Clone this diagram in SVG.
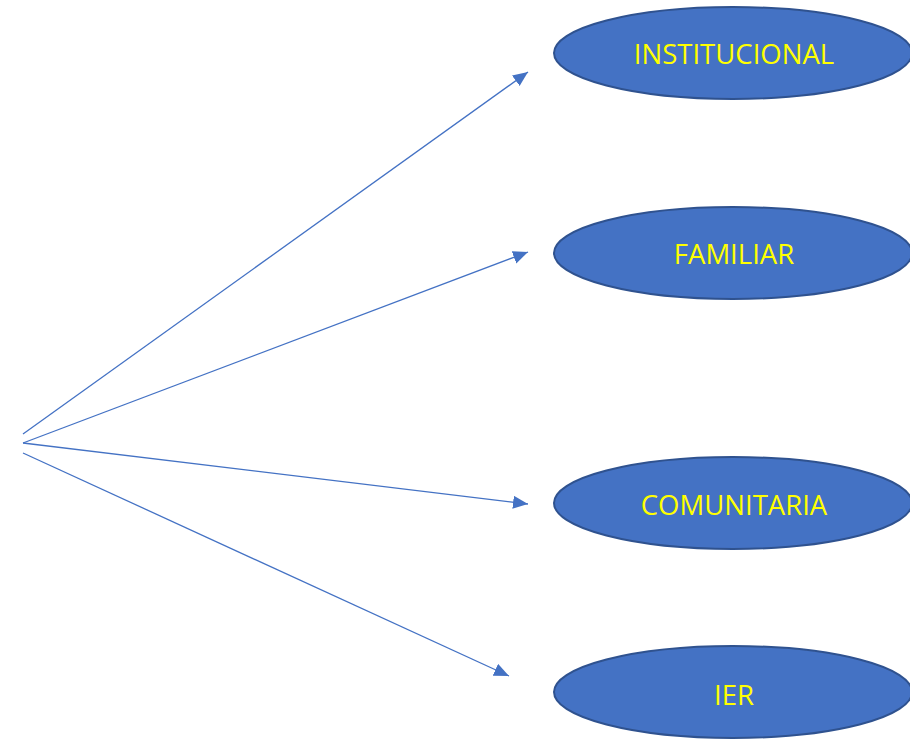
<svg xmlns="http://www.w3.org/2000/svg" width="910" height="739" viewBox="0 0 910 739">
<style>
.node ellipse{fill:#4472C4;stroke:#2F528F;stroke-width:2}
.node text{fill:#FFFF00;font-family:"Open Sans","Liberation Sans",sans-serif;font-size:27.5px;text-anchor:middle;dominant-baseline:central}
.conn line{stroke:#4472C4;stroke-width:1.3;marker-end:url(#ah)}
</style>
<defs>
<marker id="ah" markerUnits="userSpaceOnUse" markerWidth="16" markerHeight="14" refX="15" refY="6.5" orient="auto">
<path d="M0,0 L15,6.5 L0,13 Z" fill="#4472C4"/>
</marker>
</defs>
<rect width="910" height="739" fill="#fff"/>
<g id="connectors" class="conn">
<line x1="23" y1="434" x2="528" y2="72"/>
<line x1="23" y1="443" x2="528" y2="252"/>
<line x1="23" y1="443" x2="528" y2="504"/>
<line x1="23" y1="453" x2="509" y2="676"/>
</g>
<g id="institucional" class="node"><ellipse cx="733" cy="53" rx="179" ry="46"/><text x="734" y="53">INSTITUCIONAL</text></g>
<g id="familiar" class="node"><ellipse cx="733" cy="253" rx="179" ry="46"/><text x="734" y="253">FAMILIAR</text></g>
<g id="comunitaria" class="node"><ellipse cx="733" cy="503" rx="179" ry="46"/><text x="734" y="504">COMUNITARIA</text></g>
<g id="ier" class="node"><ellipse cx="733" cy="692" rx="179" ry="46"/><text x="734" y="694">IER</text></g>
</svg>
